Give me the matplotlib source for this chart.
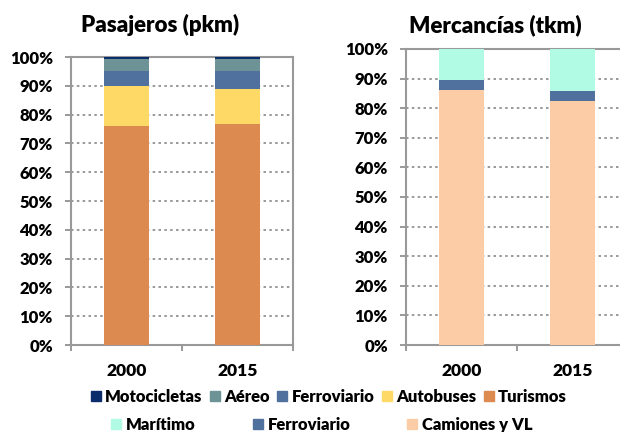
import numpy as np
import matplotlib.pyplot as plt
from matplotlib.patches import Patch

plt.rcParams['font.family'] = ['Lato', 'DejaVu Sans']
plt.rcParams['font.weight'] = 'heavy'
wt = 'heavy'

# ---------------- datos ----------------
years = ['2000', '2015']

# Pasajeros (pkm), cuota en %
turismos = [76.0, 76.8]
autobuses = [14.0, 12.2]
ferroviario_p = [5.1, 6.3]
aereo = [4.2, 4.0]
motocicletas = [0.7, 0.7]

# Mercancias (tkm), cuota en %
camiones = [86.0, 82.4]
ferroviario_m = [3.5, 3.4]
maritimo = [10.5, 14.2]

c_moto = '#0c2d6b'
c_aereo = '#6e9397'
c_ferro = '#50719e'
c_bus = '#ffd966'
c_tur = '#dd8a50'
c_mar = '#b1fbe5'
c_cam = '#fbcca5'

W, H = 620, 432
fig = plt.figure(figsize=(W / 100, H / 100), dpi=100)
ax1 = fig.add_axes([71 / W, (H - 345) / H, 222 / W, 288 / H])
ax2 = fig.add_axes([406 / W, (H - 345) / H, 222 / W, 296 / H])

x = np.arange(len(years))
bw = 0.41


def stack(ax, series, colors):
    bottom = np.zeros(len(years))
    for vals, col in zip(series, colors):
        ax.bar(x, vals, bw, bottom=bottom, color=col, zorder=3)
        bottom += np.array(vals)


stack(ax1, [turismos, autobuses, ferroviario_p, aereo, motocicletas],
      [c_tur, c_bus, c_ferro, c_aereo, c_moto])
stack(ax2, [camiones, ferroviario_m, maritimo], [c_cam, c_ferro, c_mar])

for ax in (ax1, ax2):
    ax.set_xlim(-0.5, 1.5)
    ax.set_ylim(0, 100)
    ax.set_yticks(np.arange(0, 101, 10))
    ax.set_yticklabels([f'{v}%' for v in range(0, 101, 10)], fontsize=12, fontweight=wt)
    ax.set_xticks(x)
    ax.set_xticklabels(years, fontsize=12.5, fontweight=wt)
    ax.tick_params(axis='x', length=0, pad=13)
    ax.set_xticks([-0.5, 0.5, 1.5], minor=True)
    ax.tick_params(axis='x', which='minor', length=4, color='#888888', width=1.2)
    ax.tick_params(axis='y', length=4, color='#888888', width=1.2, pad=9)
    ax.grid(axis='y', linestyle=(0, (1.5, 2)), color='#888888', linewidth=1.2, zorder=0)
    for s in ax.spines.values():
        s.set_color('#999999')
        s.set_linewidth(1.5)

fig.text(160 / W, 1 - 25 / H, 'Pasajeros (pkm)', ha='center', va='center',
         fontsize=16, fontweight=wt)
fig.text(495 / W, 1 - 25 / H, 'Mercancías (tkm)', ha='center', va='center',
         fontsize=16, fontweight=wt)

h1 = [Patch(color=c) for c in [c_moto, c_aereo, c_ferro, c_bus, c_tur]]
fig.legend(h1, ['Motocicletas', 'Aéreo', 'Ferroviario', 'Autobuses', 'Turismos'],
           loc='center', bbox_to_anchor=(329 / W, 1 - 397 / H), ncol=5, frameon=False,
           prop={'size': 12, 'weight': wt}, handlelength=0.6, handleheight=0.6,
           handletextpad=0.25, columnspacing=0.45, borderpad=0)

h2 = [Patch(color=c) for c in [c_mar, c_ferro, c_cam]]
fig.legend(h2, ['Marítimo', 'Ferroviario', 'Camiones y VL'],
           loc='center', bbox_to_anchor=(322 / W, 1 - 425 / H), ncol=3, frameon=False,
           prop={'size': 12, 'weight': wt}, handlelength=0.6, handleheight=0.6,
           handletextpad=0.3, columnspacing=3.4, borderpad=0)

plt.savefig('out.png', dpi=100)
